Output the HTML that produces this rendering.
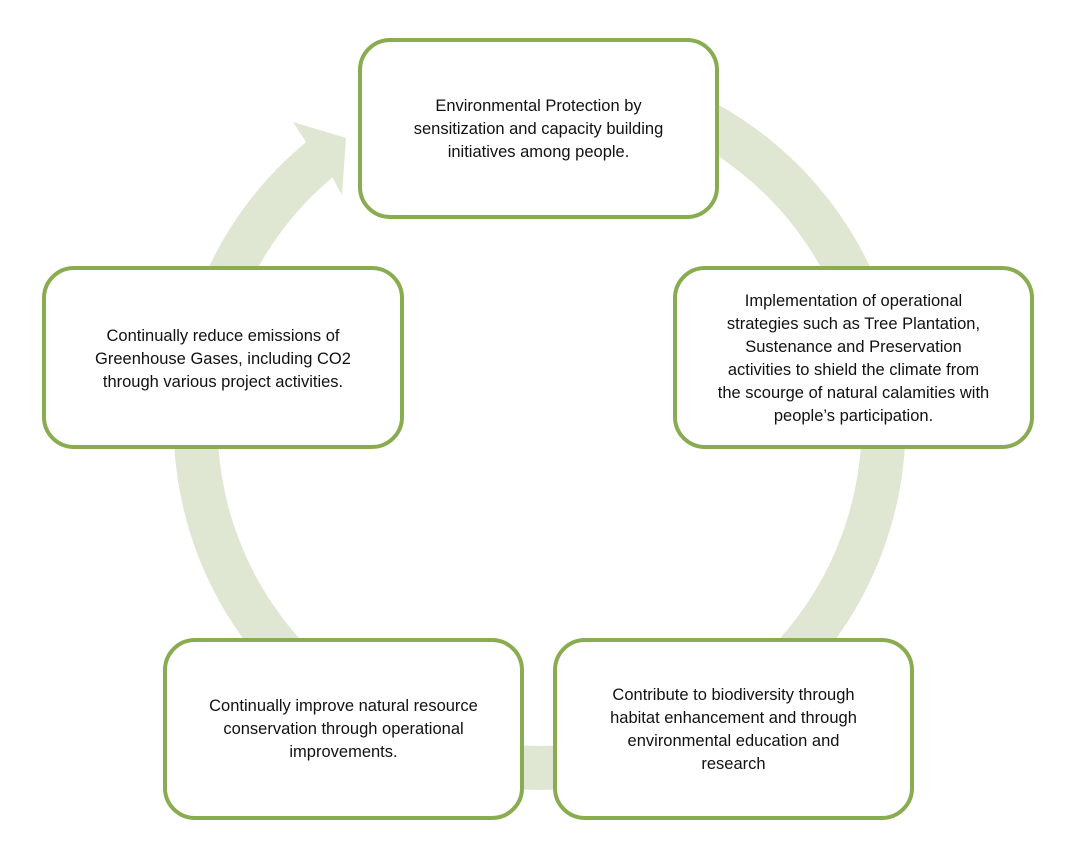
<!DOCTYPE html>
<html><head><meta charset="utf-8"><style>
body{margin:0;width:1072px;height:851px;background:#fff;position:relative;overflow:hidden;font-family:"Liberation Sans",sans-serif}
.b{position:absolute;box-sizing:border-box;border:4px solid #8aac50;border-radius:32px;background:#fff;display:flex;align-items:center;justify-content:center;text-align:center;font-size:16.5px;line-height:23px;color:#111;padding:0 12px}
svg{position:absolute;left:0;top:0}
</style></head><body>
<svg width="1072" height="851">
<path d="M539 80 A344 344 0 1 1 319 160" fill="none" stroke="#dfe7d3" stroke-width="44"/>
<polygon points="293,122 346,138 342,195 332,177 300,150 306,142" fill="#dfe7d3"/>
</svg>
<div class="b" style="left:358px;top:38px;width:361px;height:181px;padding-top:2px">Environmental Protection by<br>sensitization and capacity building<br>initiatives among people.</div>
<div class="b" style="left:673px;top:266px;width:361px;height:183px;padding-top:2px">Implementation of operational<br>strategies such as Tree Plantation,<br>Sustenance and Preservation<br>activities to shield the climate from<br>the scourge of natural calamities with<br>people’s participation.</div>
<div class="b" style="left:42px;top:266px;width:362px;height:183px;padding-top:4px">Continually reduce emissions of<br>Greenhouse Gases, including CO2<br>through various project activities.</div>
<div class="b" style="left:163px;top:638px;width:361px;height:182px">Continually improve natural resource<br>conservation through operational<br>improvements.</div>
<div class="b" style="left:553px;top:638px;width:361px;height:182px;padding-top:2px">Contribute to biodiversity through<br>habitat enhancement and through<br>environmental education and<br>research</div>
</body></html>
